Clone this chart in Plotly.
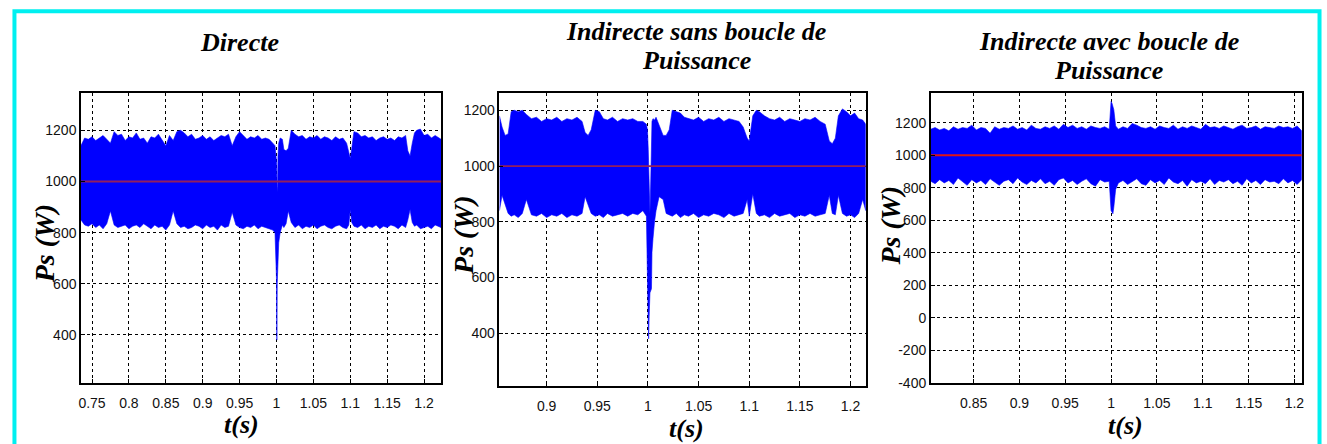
import plotly.graph_objects as go

W, H = 1327, 444

# ---------------------------------------------------------------
# Stator active power Ps (W): upper / lower envelope of the ripple
# band, sampled along time t (s), plus the 1000 W reference.
# ---------------------------------------------------------------
P_REF = 1000

# --- Directe ---
T1 = [0.735, 0.740, 0.745, 0.750, 0.755, 0.760, 0.765, 0.770, 0.775, 0.780,
      0.785, 0.790, 0.795, 0.800, 0.805, 0.810, 0.815, 0.820, 0.825, 0.830,
      0.835, 0.840, 0.845, 0.850, 0.855, 0.860, 0.865, 0.870, 0.875, 0.880,
      0.885, 0.890, 0.895, 0.900, 0.905, 0.910, 0.915, 0.920, 0.925, 0.930,
      0.935, 0.940, 0.945, 0.950, 0.955, 0.960, 0.965, 0.970, 0.975, 0.980,
      0.985, 0.990, 0.995, 0.998, 1.000, 1.0005, 1.001, 1.0015, 1.002, 1.003,
      1.005, 1.008, 1.010, 1.013, 1.016, 1.020, 1.025, 1.030, 1.035, 1.040,
      1.045, 1.050, 1.055, 1.060, 1.065, 1.070, 1.075, 1.080, 1.085, 1.090,
      1.095, 1.098, 1.100, 1.102, 1.105, 1.110, 1.115, 1.120, 1.125, 1.130,
      1.135, 1.140, 1.145, 1.150, 1.155, 1.160, 1.165, 1.170, 1.175, 1.178,
      1.181, 1.184, 1.187, 1.190, 1.195, 1.200, 1.205, 1.210, 1.215, 1.223]
HI1 = [1140, 1170, 1165, 1175, 1160, 1170, 1180, 1165, 1150, 1195,
       1180, 1185, 1160, 1175, 1170, 1190, 1165, 1170, 1150, 1175,
       1170, 1185, 1165, 1140, 1180, 1160, 1195, 1200, 1190, 1175,
       1185, 1165, 1170, 1180, 1165, 1175, 1160, 1170, 1180, 1175,
       1185, 1140, 1175, 1195, 1180, 1165, 1175, 1170, 1180, 1165,
       1170, 1165, 1150, 1140, 1080, 1000, 960, 980, 1100, 1150,
       1170, 1165, 1125, 1120, 1130, 1200, 1185, 1175, 1180, 1165,
       1175, 1170, 1180, 1165, 1175, 1170, 1160, 1175, 1165, 1170,
       1150, 1110, 1090, 1130, 1195, 1190, 1175, 1180, 1170, 1175,
       1160, 1170, 1175, 1165, 1170, 1160, 1175, 1170, 1180, 1120,
       1100, 1150, 1190, 1200, 1205, 1180, 1185, 1170, 1180, 1165]
LO1 = [850, 830, 825, 835, 820, 830, 815, 835, 885, 830,
       820, 825, 830, 815, 825, 830, 820, 835, 825, 815,
       830, 820, 825, 810, 830, 885, 835, 820, 825, 815,
       820, 830, 825, 815, 830, 820, 825, 810, 830, 820,
       825, 880, 830, 820, 815, 825, 820, 830, 815, 825,
       820, 815, 810, 800, 620, 380, 600, 685, 700, 760,
       800, 830, 820, 835, 885, 840, 820, 830, 815, 825,
       820, 830, 815, 825, 830, 820, 815, 825, 830, 820,
       815, 830, 890, 840, 825, 820, 830, 815, 825, 820,
       830, 815, 825, 820, 830, 825, 815, 830, 820, 850,
       890, 840, 825, 830, 815, 820, 825, 815, 830, 820]

# --- Indirecte sans boucle de Puissance ---
T2 = [0.8534, 0.856, 0.859, 0.862, 0.865, 0.868, 0.872, 0.876, 0.880, 0.885,
      0.890, 0.895, 0.900, 0.905, 0.910, 0.915, 0.920, 0.925, 0.930, 0.935,
      0.938, 0.941, 0.944, 0.948, 0.952, 0.956, 0.960, 0.965, 0.970, 0.975,
      0.980, 0.985, 0.990, 0.995, 0.9985, 0.9995, 1.0003, 1.0007, 1.0012, 1.002,
      1.0028, 1.0035, 1.004, 1.005, 1.0065, 1.008, 1.011, 1.015, 1.018, 1.021,
      1.024, 1.028, 1.032, 1.036, 1.040, 1.045, 1.050, 1.055, 1.060, 1.065,
      1.070, 1.075, 1.080, 1.085, 1.090, 1.094, 1.098, 1.100, 1.1035, 1.107,
      1.110, 1.115, 1.120, 1.125, 1.130, 1.135, 1.140, 1.145, 1.150, 1.155,
      1.160, 1.165, 1.170, 1.175, 1.179, 1.182, 1.185, 1.188, 1.192, 1.196,
      1.200, 1.204, 1.208, 1.212, 1.215]
HI2 = [1180, 1140, 1110, 1115, 1195, 1200, 1195, 1200, 1185, 1170,
       1175, 1160, 1170, 1165, 1175, 1160, 1170, 1165, 1175, 1160,
       1120, 1110, 1130, 1200, 1195, 1170, 1165, 1175, 1160, 1170,
       1165, 1170, 1160, 1160, 1150, 1130, 1060, 980, 900, 830,
       950, 1120, 1160, 1170, 1165, 1175, 1150, 1110, 1110, 1130,
       1200, 1195, 1190, 1175, 1170, 1165, 1175, 1160, 1170, 1165,
       1175, 1160, 1170, 1165, 1160, 1140, 1100, 1090, 1180, 1200,
       1195, 1180, 1170, 1165, 1175, 1160, 1170, 1165, 1160, 1170,
       1165, 1175, 1160, 1150, 1090, 1080, 1100, 1180, 1205, 1195,
       1180, 1190, 1170, 1165, 1150]
LO2 = [840, 895, 860, 830, 820, 825, 815, 830, 880, 825,
       820, 830, 815, 825, 820, 830, 815, 825, 820, 830,
       890, 860, 830, 820, 825, 815, 830, 820, 825, 830,
       820, 830, 825, 840, 820, 700, 440, 380, 460, 545,
       550, 560, 690, 740, 800, 840, 890, 880, 830, 825,
       820, 830, 815, 825, 820, 830, 815, 825, 820, 830,
       825, 815, 830, 820, 825, 830, 880, 820, 900, 830,
       820, 825, 815, 830, 820, 825, 830, 815, 825, 820,
       830, 820, 825, 830, 895, 830, 825, 895, 830, 820,
       825, 815, 830, 880, 840]

# --- Indirecte avec boucle de Puissance ---
T3 = [0.8033, 0.808, 0.813, 0.818, 0.823, 0.828, 0.833, 0.838, 0.843, 0.848,
      0.853, 0.858, 0.863, 0.868, 0.873, 0.878, 0.883, 0.888, 0.893, 0.898,
      0.903, 0.908, 0.913, 0.918, 0.923, 0.928, 0.933, 0.938, 0.943, 0.948,
      0.953, 0.958, 0.963, 0.968, 0.973, 0.978, 0.983, 0.988, 0.993, 0.998,
      1.000, 1.001, 1.002, 1.003, 1.004, 1.005, 1.008, 1.013, 1.018, 1.023,
      1.028, 1.033, 1.038, 1.043, 1.048, 1.053, 1.058, 1.063, 1.068, 1.073,
      1.078, 1.083, 1.088, 1.093, 1.098, 1.103, 1.108, 1.113, 1.118, 1.123,
      1.128, 1.133, 1.138, 1.143, 1.148, 1.153, 1.158, 1.163, 1.168, 1.173,
      1.178, 1.183, 1.188, 1.193, 1.198, 1.203, 1.208]
HI3 = [1160, 1170, 1155, 1165, 1150, 1175, 1160, 1170, 1165, 1185,
       1155, 1170, 1165, 1135, 1175, 1160, 1170, 1165, 1180, 1160,
       1170, 1155, 1185, 1165, 1160, 1175, 1165, 1180, 1160, 1190,
       1170, 1185, 1165, 1175, 1160, 1180, 1170, 1165, 1175, 1160,
       1330, 1320, 1300, 1280, 1230, 1180, 1160, 1175, 1165, 1195,
       1185, 1170, 1165, 1175, 1160, 1180, 1170, 1165, 1185, 1160,
       1175, 1165, 1180, 1170, 1160, 1190, 1170, 1175, 1165, 1180,
       1170, 1160, 1175, 1185, 1165, 1170, 1180, 1160, 1175, 1170,
       1165, 1180, 1170, 1175, 1165, 1180, 1150]
LO3 = [840, 825, 850, 830, 845, 820, 860, 835, 815, 850,
       830, 845, 820, 855, 835, 815, 840, 850, 825, 860,
       835, 820, 845, 830, 855, 825, 840, 815, 850, 860,
       830, 845, 820, 840, 855, 825, 810, 850, 835, 840,
       660, 650, 640, 680, 720, 790, 830, 845, 820, 840,
       855, 825, 815, 850, 830, 845, 820, 860, 835, 825,
       845, 810, 850, 830, 840, 825, 855, 820, 845, 835,
       850, 825, 840, 815, 855, 830, 845, 820, 850, 835,
       840, 825, 855, 830, 845, 820, 850]

# Axis ticks
X1_TICKS = [0.75, 0.8, 0.85, 0.9, 0.95, 1.0, 1.05, 1.1, 1.15, 1.2]
X1_LABELS = ["0.75", "0.8", "0.85", "0.9", "0.95", "1", "1.05", "1.1", "1.15", "1.2"]
X2_TICKS = [0.9, 0.95, 1.0, 1.05, 1.1, 1.15, 1.2]
X2_LABELS = ["0.9", "0.95", "1", "1.05", "1.1", "1.15", "1.2"]
X3_TICKS = [0.85, 0.9, 0.95, 1.0, 1.05, 1.1, 1.15, 1.2]
X3_LABELS = ["0.85", "0.9", "0.95", "1", "1.05", "1.1", "1.15", "1.2"]
Y12_TICKS = [400, 600, 800, 1000, 1200]
Y3_TICKS = [-400, -200, 0, 200, 400, 600, 800, 1000, 1200]

TITLES = [["Directe"],
          ["Indirecte sans boucle de", "Puissance"],
          ["Indirecte avec boucle de", "Puissance"]]

# Panel frames in pixels: (left, right, top, bottom), axis ranges
panels = [
    dict(t=T1, hi=HI1, lo=LO1, box=(78.3, 440.0, 95.0, 390.0),
         xr=[0.7351, 1.2234], yr=[212, 1345], xt=X1_TICKS, xl=X1_LABELS,
         yt=Y12_TICKS, ref="#931f5c",
         title_xy=[(237, 43)], ylab=(42, 248), xlab=(239, 432)),
    dict(t=T2, hi=HI2, lo=LO2, box=(498.3, 866.0, 95.0, 393.3),
         xr=[0.8534, 1.2150], yr=[210, 1261], xt=X2_TICKS, xl=X2_LABELS,
         yt=Y12_TICKS, ref="#931f5c",
         title_xy=[(696, 32), (696, 62)], ylab=(462, 239), xlab=(686, 436)),
    dict(t=T3, hi=HI3, lo=LO3, box=(931.3, 1303.7, 94.3, 390.0),
         xr=[0.8033, 1.2081], yr=[-400, 1385], xt=X3_TICKS, xl=X3_LABELS,
         yt=Y3_TICKS, ref="#e01414",
         title_xy=[(1110, 42), (1110, 72)], ylab=(891, 230), xlab=(1127, 433)),
]

TICK_FONT = dict(family="Liberation Sans Narrow, Arial Narrow, Liberation Sans, Arial",
                 size=14, color="#111111")
LABEL_FONT = dict(family="Liberation Serif, Times New Roman, serif", size=26, color="black")
YLABEL_FONT = dict(family="Liberation Serif, Times New Roman, serif", size=28, color="black")

fig = go.Figure()
annotations = []

for i, p in enumerate(panels, start=1):
    xa = "x" if i == 1 else f"x{i}"
    ya = "y" if i == 1 else f"y{i}"

    # ripple band as a closed polygon: upper envelope then lower envelope back
    fig.add_trace(go.Scatter(
        x=p["t"] + p["t"][::-1], y=p["hi"] + p["lo"][::-1],
        mode="lines", fill="toself", fillcolor="#0000ff",
        line=dict(color="#0000ff", width=0.6),
        xaxis=xa, yaxis=ya, showlegend=False, hoverinfo="skip"))

    # reference power
    fig.add_trace(go.Scatter(
        x=p["xr"], y=[P_REF, P_REF], mode="lines",
        line=dict(color=p["ref"], width=1.8),
        xaxis=xa, yaxis=ya, showlegend=False, hoverinfo="skip"))

    l, r, t, b = p["box"]
    axis_common = dict(
        showgrid=True, gridcolor="black", gridwidth=1, griddash="3px,3px",
        showline=True, mirror=True, linecolor="black", linewidth=1.5,
        ticks="inside", ticklen=4, tickcolor="black",
        zeroline=False, tickfont=TICK_FONT, fixedrange=True)
    fig.update_layout(**{
        ("xaxis" if i == 1 else f"xaxis{i}"): dict(
            domain=[l / W, r / W], range=p["xr"], anchor=ya,
            tickmode="array", tickvals=p["xt"], ticktext=p["xl"],
            ticklabelstandoff=6, **axis_common),
        ("yaxis" if i == 1 else f"yaxis{i}"): dict(
            domain=[1 - b / H, 1 - t / H], range=p["yr"], anchor=xa,
            tickmode="array", tickvals=p["yt"],
            ticktext=[str(v) for v in p["yt"]], **axis_common),
    })

    for line, (px, py) in zip(TITLES[i - 1], p["title_xy"]):
        annotations.append(dict(
            text=f"<b><i>{line}</i></b>", x=px / W, y=1 - py / H,
            xref="paper", yref="paper", xanchor="center", yanchor="middle",
            showarrow=False, font=LABEL_FONT))
    annotations.append(dict(
        text="<b><i>Ps (W)</i></b>", x=p["ylab"][0] / W, y=1 - p["ylab"][1] / H,
        xref="paper", yref="paper", xanchor="center", yanchor="middle",
        textangle=-90, showarrow=False, font=YLABEL_FONT))
    annotations.append(dict(
        text="<b><i>t(s)</i></b>", x=p["xlab"][0] / W, y=1 - p["xlab"][1] / H,
        xref="paper", yref="paper", xanchor="center", yanchor="middle",
        showarrow=False, font=LABEL_FONT))

fig.update_layout(
    width=W, height=H, autosize=False,
    margin=dict(l=0, r=0, t=0, b=0),
    paper_bgcolor="white", plot_bgcolor="white",
    annotations=annotations,
    shapes=[dict(type="rect", xref="paper", yref="paper",
                 x0=11.5 / W, x1=1321.5 / W, y0=-0.2, y1=1 - 11.5 / H,
                 line=dict(color="#00f0f0", width=4), layer="above")],
)

fig.write_html("out.html", config={"displayModeBar": False})
